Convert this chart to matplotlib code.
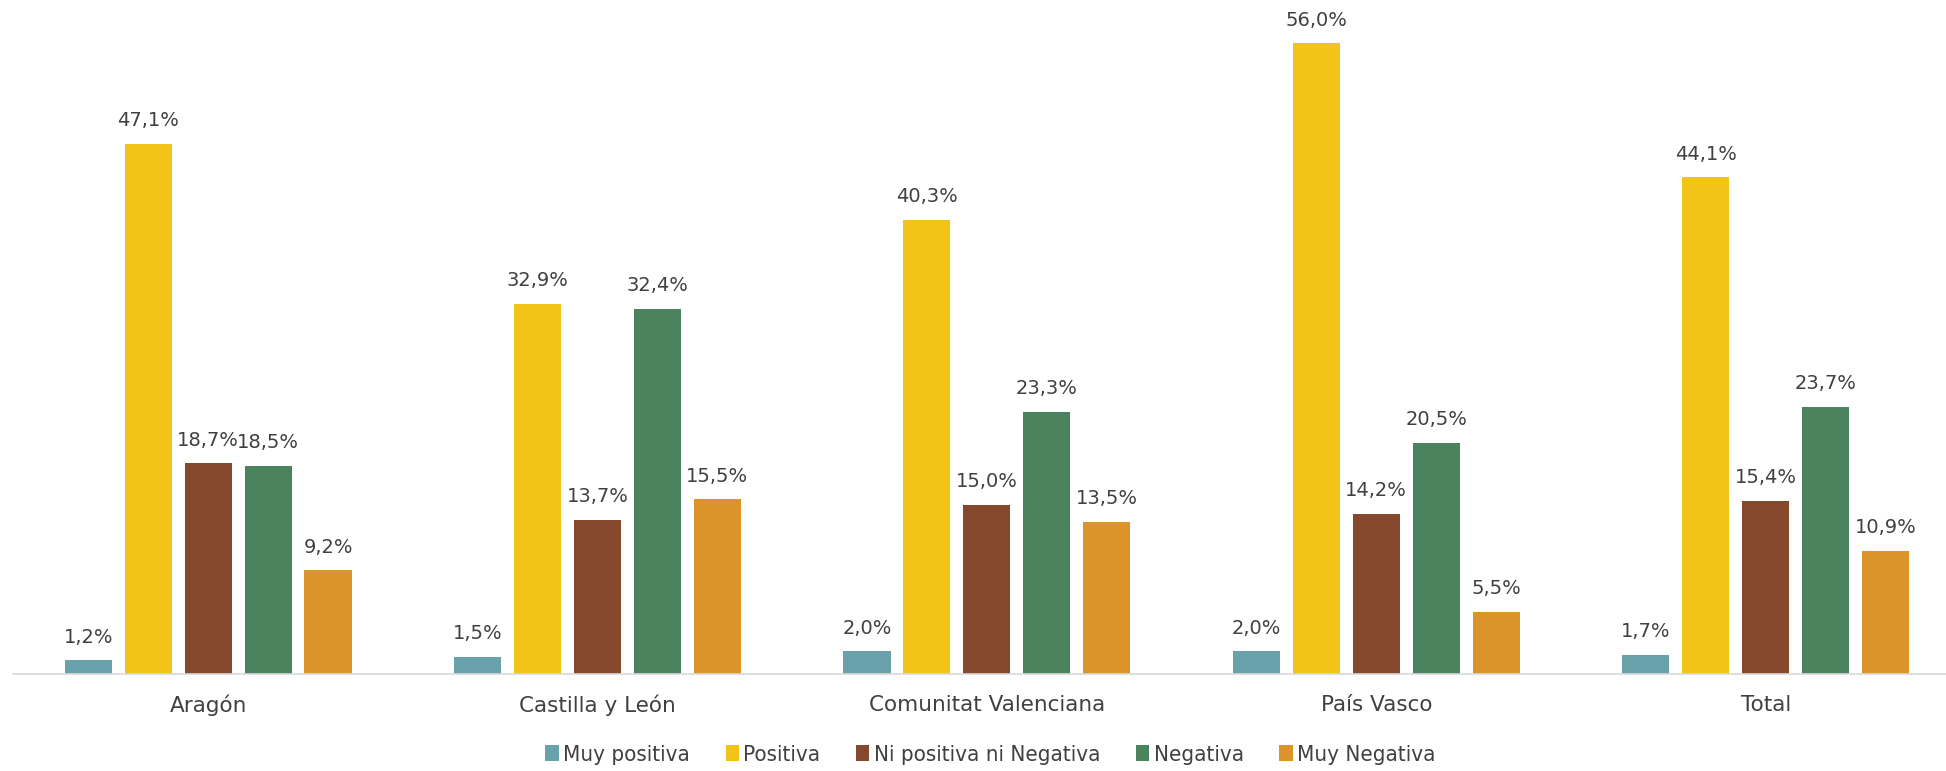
import matplotlib
matplotlib.use("Agg")
import matplotlib.pyplot as plt
import numpy as np
from matplotlib.patches import Patch

categories = ["Aragón", "Castilla y León", "Comunitat Valenciana", "País Vasco", "Total"]
series_names = ["Muy positiva", "Positiva", "Ni positiva ni Negativa", "Negativa", "Muy Negativa"]
muy_positiva = [1.2, 1.5, 2.0, 2.0, 1.7]
positiva = [47.1, 32.9, 40.3, 56.0, 44.1]
ni_ni = [18.7, 13.7, 15.0, 14.2, 15.4]
negativa = [18.5, 32.4, 23.3, 20.5, 23.7]
muy_negativa = [9.2, 15.5, 13.5, 5.5, 10.9]
series = [muy_positiva, positiva, ni_ni, negativa, muy_negativa]
colors = ["#6AA2AC", "#F2C418", "#86482C", "#4A835E", "#DB942A"]

text_color = "#404040"
fig = plt.figure(figsize=(19.46, 7.71), dpi=100)
ax = fig.add_axes([13.4 / 1946, 97 / 771, 1947 / 1946, 60 * 11.26 / 771])

x = np.arange(len(categories))
step = 0.154
width = 0.121
for i, (vals, col) in enumerate(zip(series, colors)):
    off = (i - 2) * step
    ax.bar(x + off, vals, width=width, color=col, zorder=2)
    for xi, v in zip(x + off, vals):
        ax.annotate(f"{v:.1f}%".replace(".", ","), (xi, v), xytext=(0, 10),
                    textcoords="offset points", ha="center", va="bottom",
                    fontsize=14, color=text_color, family="DejaVu Sans")

ax.set_xlim(-0.5, 4.5)
ax.set_ylim(0, 60)
ax.set_yticks([])
ax.set_xticks(x)
ax.set_xticklabels(categories, fontsize=15.5, color=text_color, family="DejaVu Sans")
ax.tick_params(axis="x", length=0, pad=15)
for s in ["top", "right", "left"]:
    ax.spines[s].set_visible(False)
ax.spines["bottom"].set_color("#D9D9D9")
ax.spines["bottom"].set_linewidth(1.2)

handles = [Patch(facecolor=c, edgecolor="none") for c in colors]
leg = fig.legend(handles, series_names, loc="center", bbox_to_anchor=(0.509, 0.021),
                 ncol=5, frameon=False, handlelength=0.6, handleheight=0.75,
                 handletextpad=0.2, columnspacing=1.6,
                 prop={"family": "DejaVu Sans", "stretch": "condensed", "size": 16})
for t in leg.get_texts():
    t.set_color(text_color)

fig.savefig("out.png", dpi=100)
